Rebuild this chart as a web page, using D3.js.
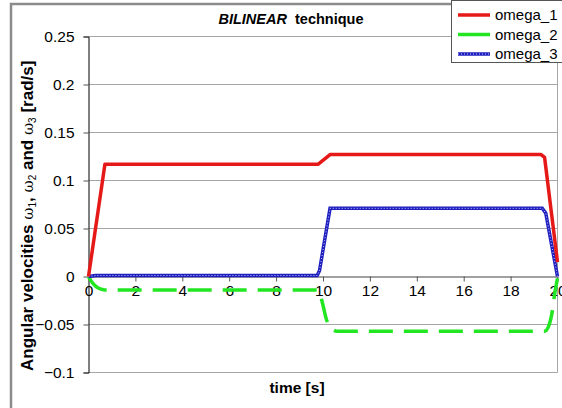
<!DOCTYPE html>
<html>
<head>
<meta charset="utf-8">
<script src="https://cdn.jsdelivr.net/npm/d3@7"></script>
<style>
	body { margin: 0; background: #fff; }
	svg { display: block; font-family: "Liberation Sans", Arial, sans-serif; }
</style>
</head>
<body>
<svg id="chart"></svg>
<script>
// Values
const time1 = [0, 0.7, 9.8, 10.3, 19.3, 19.45, 20];
const omega1 = [0, 0.117, 0.117, 0.127, 0.127, 0.124, 0.015];

const time2 = [0, 0.15, 0.3, 0.5, 0.7, 9.8, 9.95, 10.15, 10.35, 10.6, 19.45, 19.6, 19.75, 19.9, 20];
const omega2 = [0, -0.006, -0.01, -0.013, -0.014, -0.014, -0.025, -0.045, -0.054, -0.057, -0.057, -0.053, -0.04, -0.015, -0.002];

const time3 = [0, 0.3, 9.75, 9.85, 10.3, 19.35, 19.5, 20];
const omega3 = [0, 0.001, 0.001, 0.006, 0.071, 0.071, 0.066, 0];

const xTicks = [0, 2, 4, 6, 8, 10, 12, 14, 16, 18, 20];
const yTicks = [0.25, 0.2, 0.15, 0.1, 0.05, 0, -0.05, -0.1];
const seriesNames = ["omega_1", "omega_2", "omega_3"];

const width = 562;
const height = 408;

const svg = d3.select("#chart")
	.attr("width", width)
	.attr("height", height);

// outer chart border
svg.append("rect")
	.attr("x", 11)
	.attr("y", 4)
	.attr("width", 600)
	.attr("height", 500)
	.attr("fill", "none")
	.attr("stroke", "#8c8c8c")
	.attr("stroke-width", 2.5);

const x = d3.scaleLinear().domain([0, 20]).range([88.5, 557.5]);
const y = d3.scaleLinear().domain([-0.1, 0.25]).range([372.5, 36.5]);

// gridlines
svg.append("g")
	.selectAll("line")
	.data(yTicks.filter((d) => d !== 0))
	.join("line")
	.attr("x1", x(0))
	.attr("x2", x(20))
	.attr("y1", (d) => y(d))
	.attr("y2", (d) => y(d))
	.attr("stroke", "#a6a6a6")
	.attr("stroke-width", 1);

// right border of plot area
svg.append("line")
	.attr("x1", x(20)).attr("x2", x(20))
	.attr("y1", y(0.25)).attr("y2", y(-0.1))
	.attr("stroke", "#a6a6a6");

// y axis
const yAxis = svg.append("g")
	.attr("transform", `translate(${x(0)},0)`)
	.call(d3.axisLeft(y).tickValues(yTicks).tickSize(5).tickPadding(9)
		.tickFormat((d) => d3.format("")(+d.toFixed(2))));
yAxis.select(".domain").attr("stroke", "#000");
yAxis.selectAll(".tick line").attr("stroke", "#555");
yAxis.selectAll("text")
	.attr("font-size", 15.5)
	.attr("fill", "#000")
	.attr("font-family", "Liberation Sans, Arial, sans-serif");

// x axis through zero
const xAxis = svg.append("g")
	.attr("transform", `translate(0,${y(0)})`)
	.call(d3.axisBottom(x).tickValues(xTicks).tickSize(5).tickSizeOuter(0).tickPadding(3));
xAxis.select(".domain").attr("stroke", "#808080").attr("stroke-width", 1.5);
xAxis.selectAll(".tick line").attr("stroke", "#555");
xAxis.selectAll("text")
	.attr("font-size", 15.5)
	.attr("fill", "#000")
	.attr("font-family", "Liberation Sans, Arial, sans-serif");

const line = d3.line()
	.x((d) => x(d[0]))
	.y((d) => y(d[1]));

const data1 = d3.zip(time1, omega1);
const data2 = d3.zip(time2, omega2);
const data3 = d3.zip(time3, omega3);

svg.append("path")
	.datum(data2)
	.attr("d", line.curve(d3.curveMonotoneX))
	.attr("fill", "none")
	.attr("stroke", "#22e622")
	.attr("stroke-width", 3.5)
	.attr("stroke-dasharray", "24,11");

svg.append("path")
	.datum(data3)
	.attr("d", line.curve(d3.curveLinear))
	.attr("fill", "none")
	.attr("stroke", "#1f1fbf")
	.attr("stroke-width", 3.5);
svg.append("path")
	.datum(data3)
	.attr("d", line)
	.attr("fill", "none")
	.attr("stroke", "#c8c8ff")
	.attr("stroke-width", 1)
	.attr("stroke-dasharray", "1,2");

svg.append("path")
	.datum(data1)
	.attr("d", line)
	.attr("fill", "none")
	.attr("stroke", "#e61919")
	.attr("stroke-width", 3.5)
	.attr("stroke-linejoin", "round");

// title
const title = svg.append("text")
	.attr("x", 291)
	.attr("y", 24)
	.attr("text-anchor", "middle")
	.attr("font-size", 14.5)
	.attr("font-weight", "bold");
title.append("tspan").attr("font-style", "italic").text("BILINEAR");
title.append("tspan").text("\u00a0 technique");

// axis labels
svg.append("text")
	.attr("x", 297)
	.attr("y", 393)
	.attr("text-anchor", "middle")
	.attr("font-size", 15.5)
	.attr("font-weight", "bold")
	.text("time [s]");

const yLabel = svg.append("text")
	.attr("transform", "translate(33,371) rotate(-90)")
	.attr("text-anchor", "start")
	.attr("font-size", 17)
	.attr("font-weight", "bold");
yLabel.append("tspan").text("Angular velocities  ");
[["1", ", "], ["2", " and "], ["3", " [rad/s]"]].forEach(([sub, rest]) => {
	yLabel.append("tspan").attr("font-family", "DejaVu Serif, serif").attr("font-weight", "normal").attr("font-size", 15).text("ω");
	yLabel.append("tspan").attr("font-size", 10).attr("font-weight", "normal").attr("dy", 3).text(sub);
	yLabel.append("tspan").attr("dy", -3).text(rest);
});

// legend
const legend = svg.append("g");
legend.append("rect")
	.attr("x", 451.5)
	.attr("y", 0.5)
	.attr("width", 120)
	.attr("height", 62)
	.attr("fill", "#fff")
	.attr("stroke", "#555");

const legendColors = ["#e61919", "#22e622", "#1f1fbf"];
seriesNames.forEach((name, i) => {
	const ly = 15 + i * 19.5;
	legend.append("line")
		.attr("x1", 458).attr("x2", 490)
		.attr("y1", ly).attr("y2", ly)
		.attr("stroke", legendColors[i])
		.attr("stroke-width", 3.5);
	if (i === 2) {
		legend.append("line")
			.attr("x1", 458).attr("x2", 490)
			.attr("y1", ly).attr("y2", ly)
			.attr("stroke", "#c8c8ff")
			.attr("stroke-width", 1)
			.attr("stroke-dasharray", "1,2");
	}
	legend.append("text")
		.attr("x", 495)
		.attr("y", ly + 5)
		.attr("font-size", 15)
		.text(name);
});
</script>
</body>
</html>
